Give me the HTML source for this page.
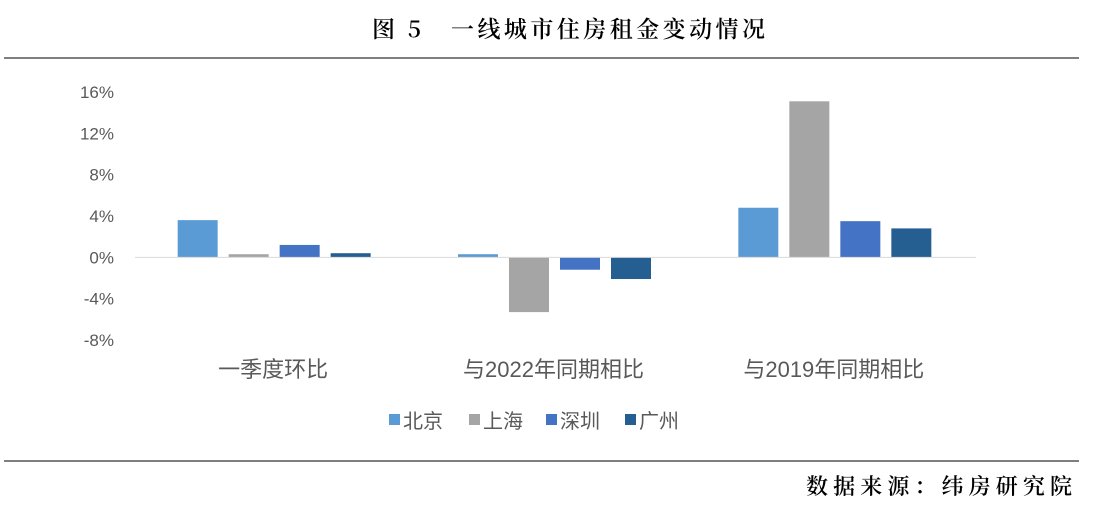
<!DOCTYPE html>
<html><head><meta charset="utf-8"><style>
body{margin:0;background:#fff;width:1093px;height:510px;overflow:hidden;font-family:"Liberation Sans","Noto Sans CJK SC",sans-serif;}
</style></head><body>
<svg id="chart" width="1093" height="510" xmlns="http://www.w3.org/2000/svg">
<text x="372" y="37" textLength="393" lengthAdjust="spacing" font-size="23" font-weight="600" font-family="'Noto Serif CJK SC',serif" fill="#000">图 5　一线城市住房租金变动情况</text>
<line x1="4" y1="58" x2="1079" y2="58" stroke="#555" stroke-width="1.5"/>
<line x1="4" y1="461" x2="1079" y2="461" stroke="#555" stroke-width="1.5"/>
<text x="806" y="494" textLength="266" lengthAdjust="spacing" font-size="22" font-weight="600" font-family="'Noto Serif CJK SC',serif" fill="#000">数据来源：纬房研究院</text>
<g id="plot"></g>
</svg>
<script>
const categories=["一季度环比","与2022年同期相比","与2019年同期相比"];
const seriesNames=["北京","上海","深圳","广州"];
const beijing=[3.6,0.3,4.8];
const shanghai=[0.3,-5.3,15.1];
const shenzhen=[1.2,-1.2,3.5];
const guangzhou=[0.4,-2.1,2.8];
const yTicks=[16,12,8,4,0,-4,-8];
const colors=["#5B9BD5","#A5A5A5","#4472C4","#255E91"];
const series=[beijing,shanghai,shenzhen,guangzhou];
const NS="http://www.w3.org/2000/svg";
const g=document.getElementById('plot');
const x0=135,x1=976,yTop=92,yBot=340,vMax=16,vMin=-8;
const y=v=>yTop+(vMax-v)*(yBot-yTop)/(vMax-vMin);
const gw=(x1-x0)/categories.length;
function mk(t,a){const e=document.createElementNS(NS,t);for(const k in a)e.setAttribute(k,a[k]);g.appendChild(e);return e;}
yTicks.forEach(t=>{const e=mk('text',{x:114,y:y(t)+6,'text-anchor':'end','font-size':17,fill:'#595959'});e.textContent=t+'%';

});
const bw=40,step=51;
categories.forEach((c,i)=>{
 const cx=x0+gw*(i+0.5);
 series.forEach((s,j)=>{const v=s[i];const bx=cx-2*step+j*step+4.5;
  const r=mk('rect',{x:bx,y:Math.min(y(v),y(0)),width:bw,height:Math.abs(y(v)-y(0)),fill:colors[j]});
  
  });
 const t=mk('text',{x:cx-2,y:377,'text-anchor':'middle','font-size':22,fill:'#595959'});t.textContent=c;
 
 
});
const ax=mk('line',{x1:x0,x2:x1,y1:y(0),y2:y(0),stroke:'#D9D9D9','stroke-width':1});


const lx=[389,469,546,625];
seriesNames.forEach((n,j)=>{
 const r=mk('rect',{x:lx[j],y:414,width:11,height:11,fill:colors[j]});
 
 
 const t=mk('text',{x:lx[j]+14,y:428,'font-size':20,fill:'#595959'});t.textContent=n;
 
 
});
</script>
</body></html>
